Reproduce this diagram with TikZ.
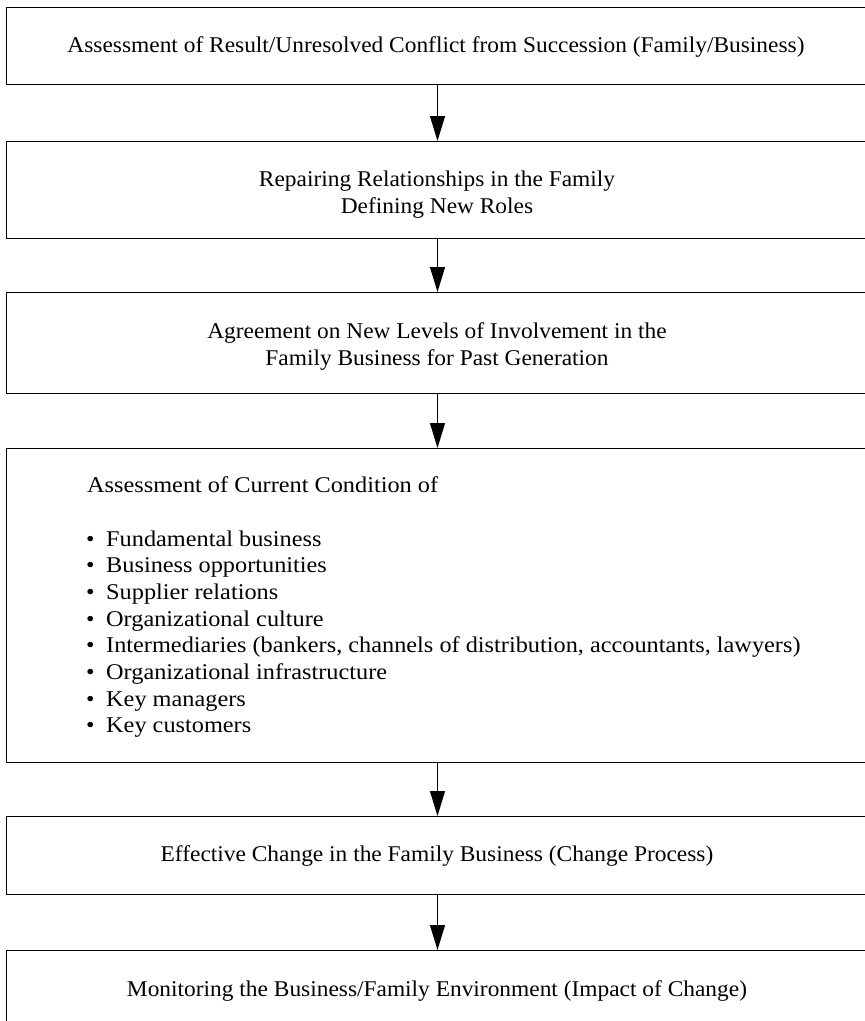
\documentclass[tikz,border=0pt]{standalone}
\usepackage{fontspec}
\setmainfont{Liberation Serif}
\newfontfamily\boxfont[FakeStretch=1.04]{Liberation Serif}
\newfontfamily\listfont[FakeStretch=1.08]{Liberation Serif}
\usetikzlibrary{arrows.meta}
\begin{document}
\begin{tikzpicture}[x=1pt,y=-1pt,
  stagebox/.style={draw=black,line width=1.3pt,rectangle,minimum width=872pt,inner sep=0pt,anchor=north west},
  lbl/.style={font=\boxfont\fontsize{22.5}{27}\selectfont,inner sep=0pt,anchor=base},
  lbll/.style={font=\listfont\fontsize{22.5}{27}\selectfont,inner sep=0pt,anchor=base west},
  flow/.style={line width=1.2pt,-{Triangle[length=25pt,width=15pt]}}]
\useasboundingbox (0,0) rectangle (865,1021);
\clip (0,0) rectangle (865,1021);
\fill[white] (0,0) rectangle (865,1021);
% boxes
\node[stagebox,minimum height=77pt] (b1) at (6,7) {};
\node[stagebox,minimum height=97pt] (b2) at (6,141) {};
\node[stagebox,minimum height=101pt] (b3) at (6,292) {};
\node[stagebox,minimum height=314pt] (b4) at (6,448) {};
\node[stagebox,minimum height=78pt] (b5) at (6,816) {};
\node[stagebox,minimum height=100pt] (b6) at (6,950) {};
% texts
\node[lbl] (t1) at (436,52) {Assessment of Result/Unresolved Conflict from Succession (Family/Business)};
\node[lbl] (t2a) at (437,186) {Repairing Relationships in the Family};
\node[lbl] (t2b) at (437,213) {Defining New Roles};
\node[lbl] (t3a) at (437,338) {Agreement on New Levels of Involvement in the};
\node[lbl] (t3b) at (437,365) {Family Business for Past Generation};
\node[lbll] (t4) at (87,492) {Assessment of Current Condition of};
\foreach \i/\t in {0/Fundamental business,1/Business opportunities,2/Supplier relations,3/Organizational culture,4/{Intermediaries (bankers, channels of distribution, accountants, lawyers)},5/Organizational infrastructure,6/Key managers,7/Key customers}{
  \node[lbll] (d\i) at (86,546+26.7*\i) {•};
  \node[lbll] (i\i) at (106,546+26.7*\i) {\t};
}
\node[lbl] (t5) at (437,861) {Effective Change in the Family Business (Change Process)};
\node[lbl] (t6) at (437,996) {Monitoring the Business/Family Environment (Impact of Change)};
% arrows
\coordinate (ax) at (437.5,0);
\draw[flow] (b1.south -| ax) -- (b2.north -| ax);
\draw[flow] (b2.south -| ax) -- (b3.north -| ax);
\draw[flow] (b3.south -| ax) -- (b4.north -| ax);
\draw[flow] (b4.south -| ax) -- (b5.north -| ax);
\draw[flow] (b5.south -| ax) -- (b6.north -| ax);
\end{tikzpicture}
\end{document}
